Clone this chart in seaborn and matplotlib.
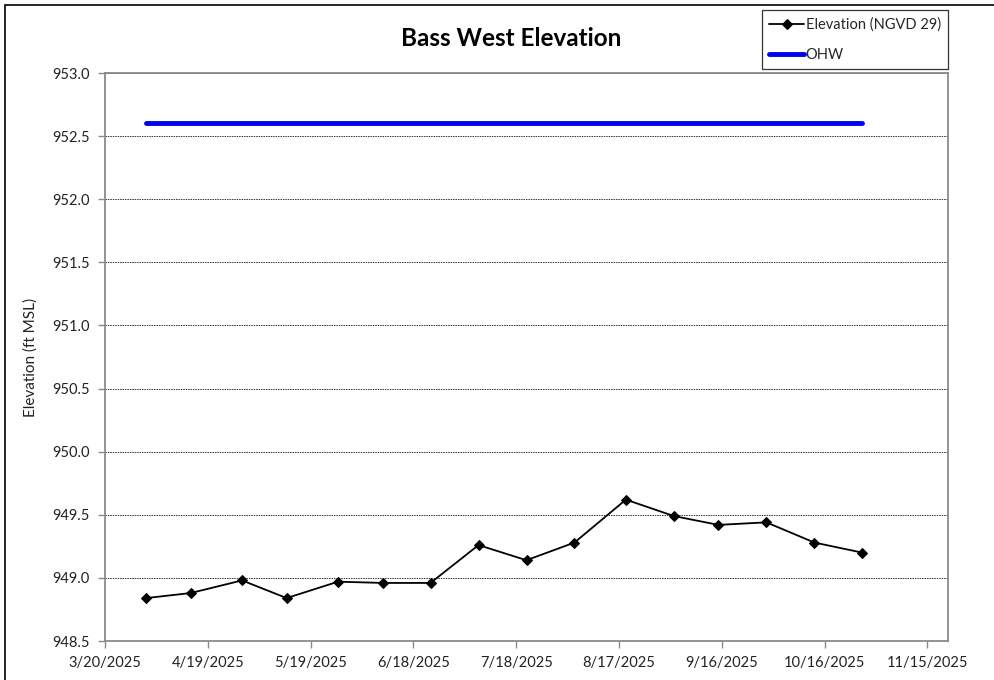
import matplotlib
matplotlib.use("Agg")
import matplotlib.pyplot as plt
import matplotlib.dates as mdates
import seaborn as sns
import pandas as pd
import numpy as np

# Survey dates and lake elevation readings
dates = ["2025-04-01", "2025-04-14", "2025-04-29", "2025-05-12", "2025-05-27",
         "2025-06-09", "2025-06-23", "2025-07-07", "2025-07-21", "2025-08-04",
         "2025-08-19", "2025-09-02", "2025-09-15", "2025-09-29", "2025-10-13",
         "2025-10-27"]
elevation = [948.84, 948.88, 948.98, 948.84, 948.97, 948.96, 948.96, 949.26,
             949.14, 949.28, 949.62, 949.49, 949.42, 949.44, 949.28, 949.20]
ohw_level = 952.60

tick_dates = ["2025-03-20", "2025-04-19", "2025-05-19", "2025-06-18", "2025-07-18",
              "2025-08-17", "2025-09-16", "2025-10-16", "2025-11-15"]
y_ticks = [948.5, 949.0, 949.5, 950.0, 950.5, 951.0, 951.5, 952.0, 952.5, 953.0]

df = pd.DataFrame({"date": pd.to_datetime(dates), "elev": elevation})
df["ohw"] = ohw_level

sns.set_theme(style="white")
plt.rcParams["font.family"] = ["Lato", "DejaVu Sans"]

fig = plt.figure(figsize=(9.94, 6.8), dpi=100)
ax = fig.add_axes([105 / 994, 1 - 641 / 680, (948 - 105) / 994, (641 - 73) / 680])

sns.lineplot(data=df, x="date", y="ohw", ax=ax, color="#0000EE", linewidth=3.5,
             label="OHW", zorder=2)
sns.lineplot(data=df, x="date", y="elev", ax=ax, color="black", linewidth=1.3,
             marker="D", markersize=5.5, markeredgecolor="black",
             label="Elevation (NGVD 29)", zorder=3)

ax.set_ylim(948.5, 953.0)
ax.set_yticks(y_ticks)
ax.set_yticklabels([f"{v:.1f}" for v in y_ticks])
ax.set_xlim(pd.Timestamp("2025-03-20"), pd.Timestamp("2025-11-21"))
ax.set_xticks(pd.to_datetime(tick_dates))
ax.set_xticklabels([f"{d.month}/{d.day}/{d.year}" for d in pd.to_datetime(tick_dates)])

ax.grid(axis="y", linestyle=(0, (1.5, 1.0)), color="#333333", linewidth=0.7)
ax.grid(axis="x", visible=False)
ax.set_axisbelow(True)

for side in ["left", "bottom", "right", "top"]:
    ax.spines[side].set_visible(True)
    ax.spines[side].set_color("#8a8a8a")
    ax.spines[side].set_linewidth(1.3)

ax.tick_params(axis="both", which="major", direction="out", length=5, width=1,
               color="#8a8a8a", labelsize=10.5, labelcolor="#222222", pad=6,
               left=True, bottom=True)

ax.set_xlabel("")
ax.set_ylabel("Elevation (ft MSL)", fontsize=11, color="#222222", labelpad=10)

fig.text(511 / 994, 1 - 38 / 680, "Bass West Elevation", ha="center", va="center",
         fontsize=17.5, fontweight="bold", color="black")

handles, labels = ax.get_legend_handles_labels()
ax.get_legend().remove()
order = [labels.index("Elevation (NGVD 29)"), labels.index("OHW")]
leg = fig.legend([handles[i] for i in order], [labels[i] for i in order],
                 loc="upper right", bbox_to_anchor=(948 / 994, 1 - 10 / 680),
                 frameon=True, fancybox=False, fontsize=10.5, handlelength=2.4,
                 handletextpad=0.1, labelspacing=1.1, borderpad=0.5,
                 borderaxespad=0)
leg.get_frame().set_edgecolor("black")
leg.get_frame().set_linewidth(0.9)

# Outer chart frame
fig.add_artist(plt.Rectangle((5 / 994, -0.01), 1.0, 1 - 5 / 680 + 0.01,
                             transform=fig.transFigure, fill=False,
                             edgecolor="black", linewidth=1.2))

fig.savefig("out.png", dpi=100)
